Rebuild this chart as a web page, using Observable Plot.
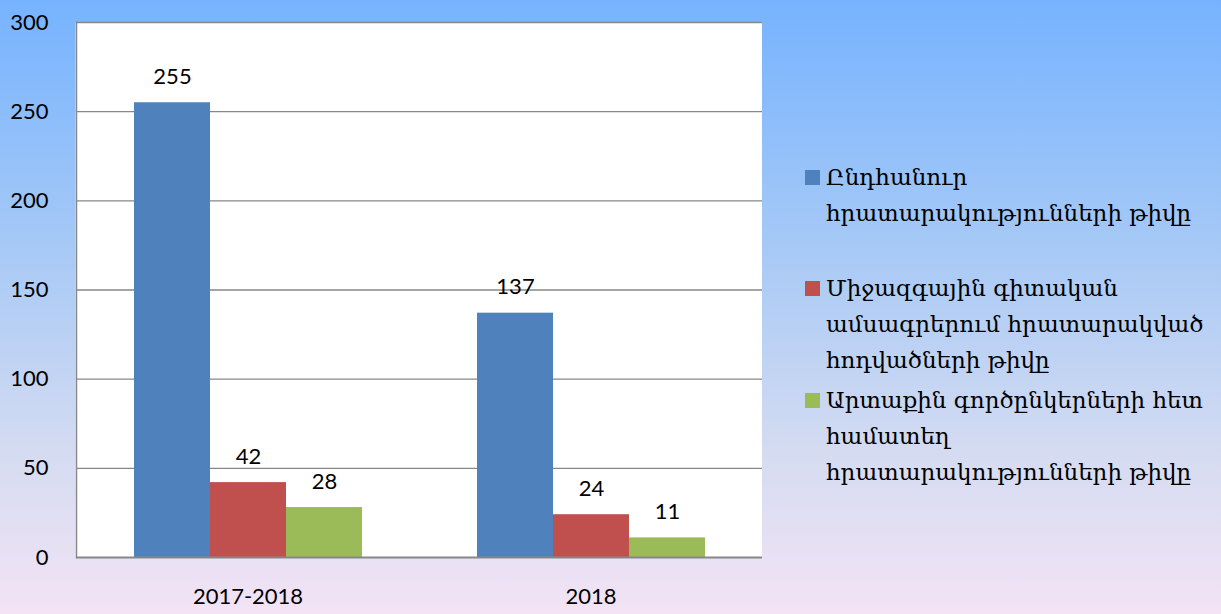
<!DOCTYPE html>
<html>
<head>
<meta charset="utf-8">
<script src="https://cdn.jsdelivr.net/npm/d3@7"></script>
<script src="https://cdn.jsdelivr.net/npm/@observablehq/plot@0.6"></script>
<style>
  html, body { margin: 0; padding: 0; }
  #wrap {
    position: relative; width: 1221px; height: 614px; overflow: hidden;
    background: linear-gradient(to bottom, #76b3ff 0%, #a6c9f6 40%, #d6dcf1 75%, #f3e3f5 100%);
  }
  #chart { position: absolute; left: 0; top: 0; }
  .legend-item { position: absolute; left: 805px; font-family: "DejaVu Serif", "DejaVu Sans", serif; font-size: 23px; line-height: 36px; color: #000; }
  .legend-item .sw { position: absolute; left: 0; top: 11px; width: 15px; height: 15px; }
  .legend-item .tx { margin-left: 21px; white-space: nowrap; }
</style>
</head>
<body>
<div id="wrap">
  <div id="chart"></div>
  <div id="legend"></div>
</div>
<script>
const groups = ["2017-2018", "2018"];
const series = [
  "Ընդհանուր հրատարակությունների թիվը",
  "Միջազգային գիտական ամսագրերում հրատարակված հոդվածների թիվը",
  "Արտաքին գործընկերների հետ համատեղ հրատարակությունների թիվը"
];
const legendLines = [
  ["Ընդհանուր", "հրատարակությունների թիվը"],
  ["Միջազգային գիտական", "ամսագրերում հրատարակված", "հոդվածների թիվը"],
  ["Արտաքին գործընկերների հետ", "համատեղ", "հրատարակությունների թիվը"]
];
const valuesTotal = [255, 137];
const valuesInternational = [42, 24];
const valuesJoint = [28, 11];
const colors = ["#4f81bd", "#c0504d", "#9bbb59"];
const yTicks = [0, 50, 100, 150, 200, 250, 300];

const seriesValues = [valuesTotal, valuesInternational, valuesJoint];
const data = groups.flatMap((g, i) => series.map((s, j) => ({group: g, series: s, value: seriesValues[j][i]})));

const chart = Plot.plot({
  width: 762,
  height: 614,
  marginLeft: 76,
  marginRight: 0,
  marginTop: 22,
  marginBottom: 57,
  style: {background: "transparent", fontFamily: "Lato, 'Open Sans', sans-serif", fontSize: "22px", color: "#000"},
  fx: {domain: groups, padding: 0, label: null},
  x: {domain: series, paddingInner: 0, paddingOuter: 0.75, axis: null},
  y: {domain: [0, 300], label: null},
  color: {domain: series, range: colors},
  marks: [
    Plot.frame({fill: "white", stroke: null, insetLeft: -1, insetRight: -1}),
    Plot.gridY(yTicks.slice(1), {stroke: "#878787", strokeOpacity: 1, strokeWidth: 1.3}),
    Plot.barY(data, {fx: "group", x: "series", y: "value", fill: "series"}),
    Plot.ruleY([0], {stroke: "#878787", strokeWidth: 2.2}),
    Plot.frame({anchor: "left", facetAnchor: "left", stroke: "#878787", strokeWidth: 1.5}),
    Plot.text(data, {fx: "group", x: "series", y: "value", text: d => String(d.value), dy: -26, fill: "#000", fontSize: 22}),
    Plot.axisY({ticks: yTicks, tickSize: 0, tickPadding: 28, fontSize: 22, label: null}),
    Plot.axisFx({anchor: "bottom", tickSize: 0, tickPadding: 31, fontSize: 22, label: null})
  ]
});
document.getElementById("chart").appendChild(chart);

const tops = [159, 270, 382];
const legend = document.getElementById("legend");
legendLines.forEach((lines, i) => {
  const item = document.createElement("div");
  item.className = "legend-item";
  item.style.top = tops[i] + "px";
  const sw = document.createElement("div");
  sw.className = "sw";
  sw.style.background = colors[i];
  const tx = document.createElement("div");
  tx.className = "tx";
  tx.innerHTML = lines.join("<br>");
  item.appendChild(sw);
  item.appendChild(tx);
  legend.appendChild(item);
});
</script>
</body>
</html>
